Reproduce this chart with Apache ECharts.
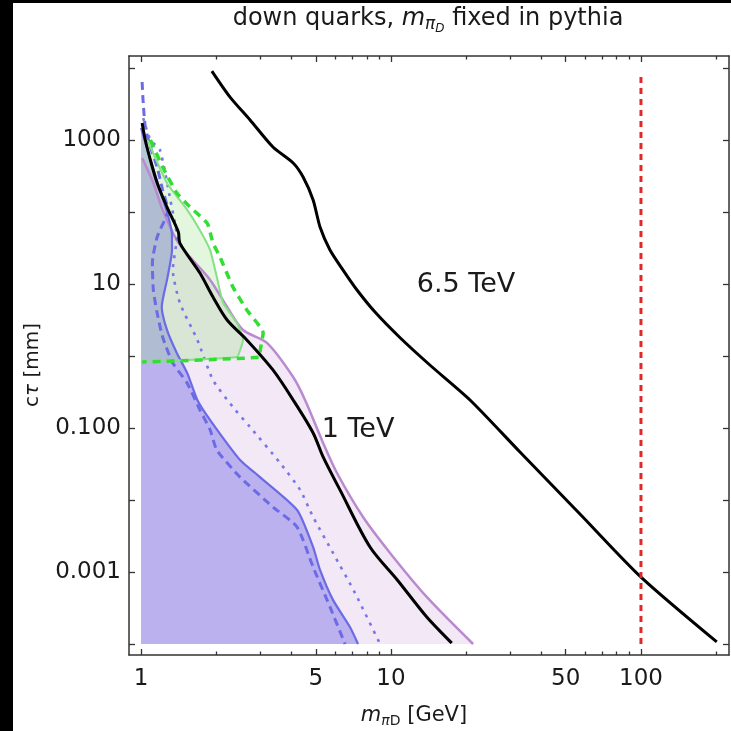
<!DOCTYPE html>
<html><head><meta charset="utf-8">
<script src="https://cdn.jsdelivr.net/npm/echarts@6/dist/echarts.min.js"></script>
<style>html,body{margin:0;padding:0;background:#fff}#c{width:731px;height:731px}</style>
</head><body><div id="c"></div>
<script>
// ---- axis ticks ----
const xTickLabels = [1, 5, 10, 50, 100];
const xMinorTicks = [2, 3, 4, 6, 7, 8, 9, 20, 30, 40, 60, 70, 80, 90, 200];
const yTickValues = [1000, 10, 0.1, 0.001];
const yTickLabels = ['1000', '10', '0.100', '0.001'];
const yMinorTicks = [10000, 100, 1, 0.01, 0.0001];
const FLOOR = 0.0001;   // lower edge of the filled regions (mm)
const EDGE = 1;         // left edge of the filled regions (GeV)

// ---- 6.5 TeV curve ----
const tev65M  = [1.92, 2.27, 2.73, 3.37, 4.06, 4.45, 4.88, 5.20, 5.70, 6.43, 7.31, 8.63, 10.9, 14.3, 20.7, 32.8, 57.0, 100, 201];
const tev65Ct = [9080, 3950, 1900, 800, 480, 306, 147, 62, 29.7, 15.6, 8.26, 4.08, 1.78, 0.75, 0.245, 0.0464, 0.0064, 0.00085, 0.000107];
// ---- 1 TeV curve ----
const tev1M  = [1.01, 1.04, 1.09, 1.16, 1.27, 1.41, 1.43, 1.72, 1.94, 2.21, 2.65, 3.37, 4.06, 4.88, 5.35, 6.25, 8.24, 10.6, 13.9, 17.5];
const tev1Ct = [1720, 1000, 527, 253, 117, 52.7, 37, 14.2, 6.6, 3.16, 1.67, 0.64, 0.245, 0.0853, 0.0396, 0.0138, 0.00222, 0.000775, 0.000237, 0.000103];
// ---- purple boundary ----
const purpleM  = [1.01, 1.12, 1.22, 1.39, 1.57, 1.89, 2.21, 2.56, 3.19, 4.06, 4.53, 5.35, 6.08, 7.73, 9.91, 13.9, 21.3];
const purpleCt = [562, 253, 107, 40.8, 23.7, 11.4, 4.8, 2.3, 1.52, 0.51, 0.245, 0.062, 0.0237, 0.0058, 0.00184, 0.00045, 0.0001];
// ---- blue solid boundary ----
const blueM  = [1.0, 1.09, 1.19, 1.28, 1.33, 1.33, 1.27, 1.21, 1.27, 1.39, 1.53, 1.68, 1.89, 2.49, 2.99, 4.21, 4.88, 5.20, 5.86, 6.85, 7.38];
const blueCt = [1468, 527, 202, 90.8, 48, 29.6, 11.4, 4.8, 2.3, 1.1, 0.58, 0.245, 0.129, 0.036, 0.0208, 0.00727, 0.00222, 0.00107, 0.00041, 0.000172, 0.0001];
// ---- blue dashed ----
const blueDashM  = [1.01, 1.02, 1.04, 1.09, 1.16, 1.22, 1.28, 1.16, 1.11, 1.12, 1.16, 1.22, 1.34, 1.53, 1.72, 1.89, 2.01, 2.49, 3.37, 4.21, 4.88, 5.70, 6.55];
const blueDashCt = [6390, 3270, 1515, 800, 422, 202, 107, 45, 19.6, 8.26, 3.95, 1.84, 0.8, 0.42, 0.178, 0.094, 0.0494, 0.0208, 0.008, 0.0042, 0.00117, 0.000327, 0.0001];
// ---- blue dotted ----
const blueDotM  = [1.02, 1.09, 1.19, 1.31, 1.39, 1.34, 1.43, 1.68, 1.94, 2.33, 2.73, 3.60, 4.33, 4.88, 5.86, 7.18, 9.04];
const blueDotCt = [2020, 1000, 727, 147, 45, 15.6, 5.45, 1.67, 0.464, 0.196, 0.103, 0.0327, 0.0138, 0.0058, 0.00184, 0.00051, 0.0001];
// ---- green solid boundary (closed at the bottom by the horizontal cut) ----
const greenM  = [1.06, 1.27, 1.53, 1.72, 1.89, 2.01, 2.13, 2.42, 2.56, 2.49, 2.42, 1.01];
const greenCt = [1000, 253, 107, 56, 29.6, 12.5, 5.45, 2.87, 1.67, 1.21, 0.968, 0.826];
// ---- green dashed ----
const greenDashM  = [1.09, 1.22, 1.39, 1.57, 1.84, 1.94, 2.07, 2.33, 2.65, 3.08, 2.99, 2.99, 1.01];
const greenDashCt = [1000, 422, 184, 117, 70, 37, 23.7, 9.1, 4.36, 2.09, 1.10, 0.97, 0.826];
// ---- red vertical at 100 GeV ----
const redM  = [100, 100];
const redCt = [7500, 0.0001];

const L = Math.log10;
const XMIN = L(0.895), XMAX = L(225);
const YMIN = -4.153, YMAX = 4.167;

function pts(ms, cs) { return ms.map((m, i) => [L(m), L(cs[i])]); }

function region(ms, cs, closeToFloor) {
  const p = pts(ms, cs);
  if (closeToFloor) {
    p.push([L(ms[ms.length - 1]), L(FLOOR)]);
    p.push([L(EDGE), L(FLOOR)]);
  } else {
    p.push([L(EDGE), L(cs[cs.length - 1])]);
  }
  p.push([L(EDGE), L(cs[0])]);
  return p;
}

function polySeries(poly, fill, z) {
  return {
    type: 'custom', silent: true, z: z, clip: true,
    data: [[0, 0]],
    renderItem: function (params, api) {
      return { type: 'polygon', shape: { points: poly.map(p => api.coord(p)) }, style: { fill: fill } };
    }
  };
}

function lineSeries(ms, cs, color, width, type, z, smooth) {
  return {
    type: 'line', data: pts(ms, cs), showSymbol: false, symbol: 'none', z: z, smooth: smooth || false,
    lineStyle: { color: color, width: width, type: type, cap: 'butt' }, silent: true, clip: true
  };
}

// ---- text helper ----
const mctx = document.createElement('canvas').getContext('2d');
function fontOf(p) { return (p.italic ? 'italic ' : '') + p.size + 'px "DejaVu Sans"'; }
function run(parts, cx, cy) {
  const w = parts.map(p => { mctx.font = fontOf(p); return mctx.measureText(p.t).width; });
  const total = w.reduce((a, b) => a + b, 0);
  let x = cx - total / 2;
  return parts.map((p, i) => {
    const el = { type: 'text', x: x, y: cy + (p.dy || 0), silent: true,
      style: { text: p.t, font: fontOf(p), fill: '#1a1a1a', align: 'left', textAlign: 'left', verticalAlign: 'middle', textVerticalAlign: 'middle' } };
    x += w[i];
    return el;
  });
}

const axisCol = '#333';
function xAxisDef(pos, ticks, len, labels, line) {
  return {
    type: 'value', position: pos, min: XMIN, max: XMAX,
    axisLine: { show: line, onZero: false, lineStyle: { color: axisCol, width: 1.5 } },
    axisTick: { show: true, inside: true, length: len, customValues: ticks.map(L), lineStyle: { color: axisCol, width: 1.3 } },
    axisLabel: labels ? { show: true, customValues: ticks.map(L), margin: 13, fontSize: 23, fontFamily: 'DejaVu Sans', color: '#1a1a1a',
      formatter: v => String(Math.round(Math.pow(10, v))) } : { show: false },
    splitLine: { show: false }
  };
}
function yAxisDef(pos, ticks, len, labels, line) {
  return {
    type: 'value', position: pos, min: YMIN, max: YMAX,
    axisLine: { show: line, onZero: false, lineStyle: { color: axisCol, width: 1.5 } },
    axisTick: { show: true, inside: true, length: len, customValues: ticks.map(L), lineStyle: { color: axisCol, width: 1.3 } },
    axisLabel: labels ? { show: true, customValues: ticks.map(L), margin: 8, fontSize: 23, fontFamily: 'DejaVu Sans', color: '#1a1a1a',
      formatter: v => { let bi = 0, bd = 1e9; yTickValues.forEach((t, i) => { const d = Math.abs(L(t) - v); if (d < bd) { bd = d; bi = i; } }); return yTickLabels[bi]; } } : { show: false },
    splitLine: { show: false }
  };
}

const chart = echarts.init(document.getElementById('c'), null, { renderer: 'canvas' });

const graphics = [
  { type: 'rect', shape: { x: 0, y: 0, width: 13, height: 731 }, style: { fill: '#000' }, silent: true },
  { type: 'rect', shape: { x: 0, y: 0, width: 731, height: 3 }, style: { fill: '#000' }, silent: true },
  { type: 'text', x: 466, y: 285, silent: true, style: { text: '6.5 TeV', font: '27px "DejaVu Sans"', fill: '#1a1a1a', align: 'center', textAlign: 'center', verticalAlign: 'middle', textVerticalAlign: 'middle' } },
  { type: 'text', x: 358, y: 430, silent: true, style: { text: '1 TeV', font: '27px "DejaVu Sans"', fill: '#1a1a1a', align: 'center', textAlign: 'center', verticalAlign: 'middle', textVerticalAlign: 'middle' } }
].concat(run([
  { t: 'down quarks, ', size: 24 },
  { t: 'm', size: 24, italic: true },
  { t: 'π', size: 17, italic: true, dy: 6 },
  { t: 'D', size: 12, italic: true, dy: 10 },
  { t: ' fixed in pythia', size: 24 }
], 428, 19)).concat(run([
  { t: 'm', size: 21, italic: true },
  { t: 'π', size: 14, italic: true, dy: 5 },
  { t: 'D', size: 14, dy: 5 },
  { t: ' [GeV]', size: 21 }
], 414, 716)).concat([{
  type: 'group', x: 33, y: 365, rotation: Math.PI / 2, silent: true,
  children: run([
    { t: 'c', size: 20 },
    { t: 'τ', size: 20, italic: true },
    { t: ' [mm]', size: 20 }
  ], 0, 0)
}]);

chart.setOption({
  animation: false,
  backgroundColor: '#fff',
  grid: { left: 129, right: 2, top: 56, bottom: 76, containLabel: false },
  xAxis: [
    xAxisDef('bottom', xTickLabels, 6, true, true),
    xAxisDef('bottom', xMinorTicks, 3.5, false, false),
    xAxisDef('top', xTickLabels, 6, false, true),
    xAxisDef('top', xMinorTicks, 3.5, false, false)
  ],
  yAxis: [
    yAxisDef('left', yTickValues, 6, true, true),
    yAxisDef('left', yMinorTicks, 6, false, false),
    yAxisDef('right', yTickValues, 6, false, true),
    yAxisDef('right', yMinorTicks, 6, false, false)
  ],
  series: [
    polySeries(region(purpleM, purpleCt, true), 'rgba(200,150,210,0.22)', 1),
    polySeries(region(blueM, blueCt, true), 'rgba(105,95,230,0.40)', 2),
    polySeries(region(greenM, greenCt, false), 'rgba(140,225,120,0.25)', 3),
    lineSeries(purpleM, purpleCt, '#b98ad0', 2.5, 'solid', 5, 0.3),
    lineSeries(blueM, blueCt, '#6b6be6', 2.2, 'solid', 6, 0.2),
    lineSeries(blueDashM, blueDashCt, '#6b6be6', 3, [8, 5], 6, 0.2),
    lineSeries(blueDotM, blueDotCt, '#7777e6', 2.6, [3, 6], 6, 0.2),
    lineSeries(greenM, greenCt, '#86e086', 2, 'solid', 6, 0.15),
    lineSeries(greenDashM, greenDashCt, '#33dd33', 3.5, [8, 6], 7, 0.15),
    lineSeries(tev1M, tev1Ct, '#000', 3, 'solid', 8, 0.3),
    lineSeries(tev65M, tev65Ct, '#000', 3, 'solid', 8, 0.25),
    lineSeries(redM, redCt, '#e02828', 3, [6, 5], 9)
  ],
  graphic: graphics
});
</script></body></html>
